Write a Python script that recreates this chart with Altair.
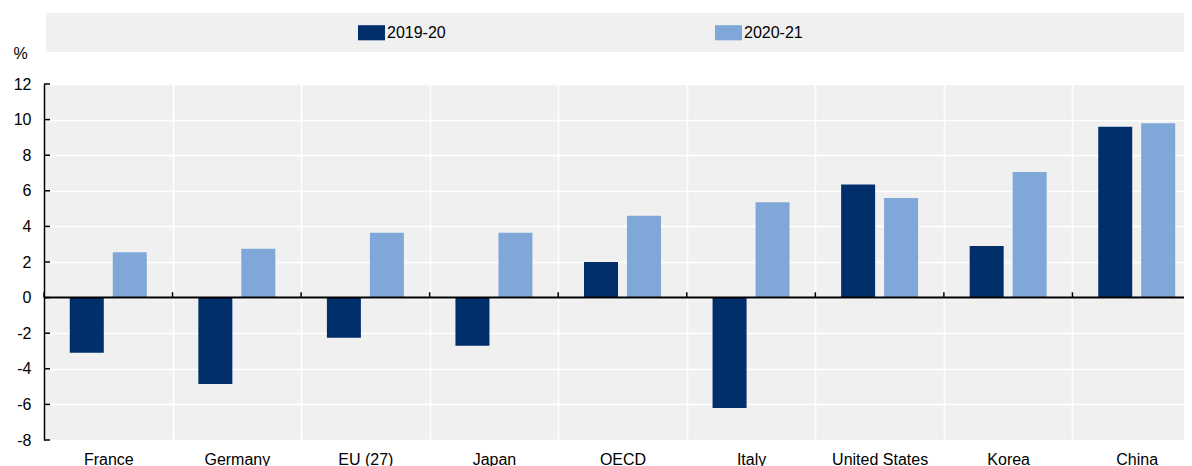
import altair as alt
import pandas as pd

countries = ["France", "Germany", "EU (27)", "Japan", "OECD", "Italy",
             "United States", "Korea", "China"]
periods = ["2019-20", "2020-21"]
v1920 = [-3.1, -4.85, -2.25, -2.7, 2.0, -6.2, 6.35, 2.9, 9.6]
v2021 = [2.55, 2.75, 3.65, 3.65, 4.6, 5.35, 5.6, 7.05, 9.8]
y_ticks = [-8, -6, -4, -2, 0, 2, 4, 6, 8, 10, 12]
colors = ["#002F6C", "#7FA8D9"]

rows = []
for c, a, b in zip(countries, v1920, v2021):
    rows.append({"country": c, "period": periods[0], "value": a})
    rows.append({"country": c, "period": periods[1], "value": b})
df = pd.DataFrame(rows)

W, H = 1140, 356
XR = 1157
FONT = "Liberation Sans"
FS = 16
BG = "#F0F0F0"

yscale = alt.Scale(domain=[-8, 12], nice=False)
xscale = alt.Scale(paddingInner=0, paddingOuter=0, range=[0, XR])

x_axis = alt.Axis(title=None, domain=False, ticks=False, grid=True,
                  tickBand="extent", gridColor="white", gridWidth=1.5,
                  labelAngle=0, labelPadding=11, labelFontSize=FS,
                  labelFont=FONT, labelColor="black")
y_axis = alt.Axis(title="%", titleAngle=0, titleX=-24, titleY=-31,
                  titleAlign="center", titleBaseline="middle",
                  titleFont=FONT, titleFontSize=FS, titleFontWeight="normal",
                  titleColor="black",
                  values=y_ticks, tickCount=len(y_ticks), labelOverlap=False,
                  labelExpr="'' + datum.value",
                  domain=True, domainColor="black",
                  domainWidth=1.5, ticks=False, grid=True,
                  gridColor="white", gridWidth=1.5, labelPadding=13,
                  labelFontSize=FS, labelFont=FONT, labelColor="black")

bars = alt.Chart(df).mark_bar().encode(
    x=alt.X("country:N", sort=countries, title=None, scale=xscale, axis=x_axis),
    xOffset=alt.XOffset("period:N", sort=periods,
                        scale=alt.Scale(paddingInner=0.209, paddingOuter=0.6)),
    y=alt.Y("value:Q", scale=yscale, title="%", axis=y_axis),
    color=alt.Color("period:N", sort=periods,
                    scale=alt.Scale(domain=periods, range=colors),
                    legend=alt.Legend(title=None, orient="none", legendX=314,
                                      legendY=-65, direction="horizontal",
                                      columnPadding=269,
                                      symbolType="M-1,-0.56H1V0.56H-1Z",
                                      symbolSize=729, symbolStrokeWidth=0,
                                      labelOffset=2, labelFontSize=FS,
                                      labelFont=FONT, labelColor="black")),
)

band = alt.Chart(pd.DataFrame({"a": [0]})).mark_rect(color=BG).encode(
    x=alt.value(2), x2=alt.value(XR), y=alt.value(-71), y2=alt.value(-32)
)

ytick_df = pd.DataFrame({"value": y_ticks})
yticks = alt.Chart(ytick_df).mark_rule(color="black", strokeWidth=1.5).encode(
    y=alt.Y("value:Q", scale=yscale, title="%", axis=y_axis),
    x=alt.value(0), x2=alt.value(6)
)

zero = alt.Chart(pd.DataFrame({"value": [0]})).mark_rule(color="black", strokeWidth=2).encode(
    y=alt.Y("value:Q", scale=yscale, title="%", axis=y_axis),
    x=alt.value(0), x2=alt.value(XR)
)

cdf = pd.DataFrame({"country": countries, "value": [0] * len(countries),
                    "t": [0.3] * len(countries)})
zticks = alt.Chart(cdf).mark_rule(color="black", strokeWidth=1.5).encode(
    x=alt.X("country:N", sort=countries, bandPosition=0, title=None,
            scale=xscale, axis=x_axis),
    y=alt.Y("value:Q", scale=yscale, title="%", axis=y_axis),
    y2="t:Q",
)

chart = alt.layer(bars, band, yticks, zero, zticks).properties(
    width=W, height=H,
    autosize=alt.AutoSizeParams(type="none"),
    padding={"left": 36, "top": 76, "right": 0, "bottom": 26},
    background="white",
).configure_view(fill=BG, stroke=None)

chart.save("out.html", embed_options={"renderer": "svg", "actions": False})
